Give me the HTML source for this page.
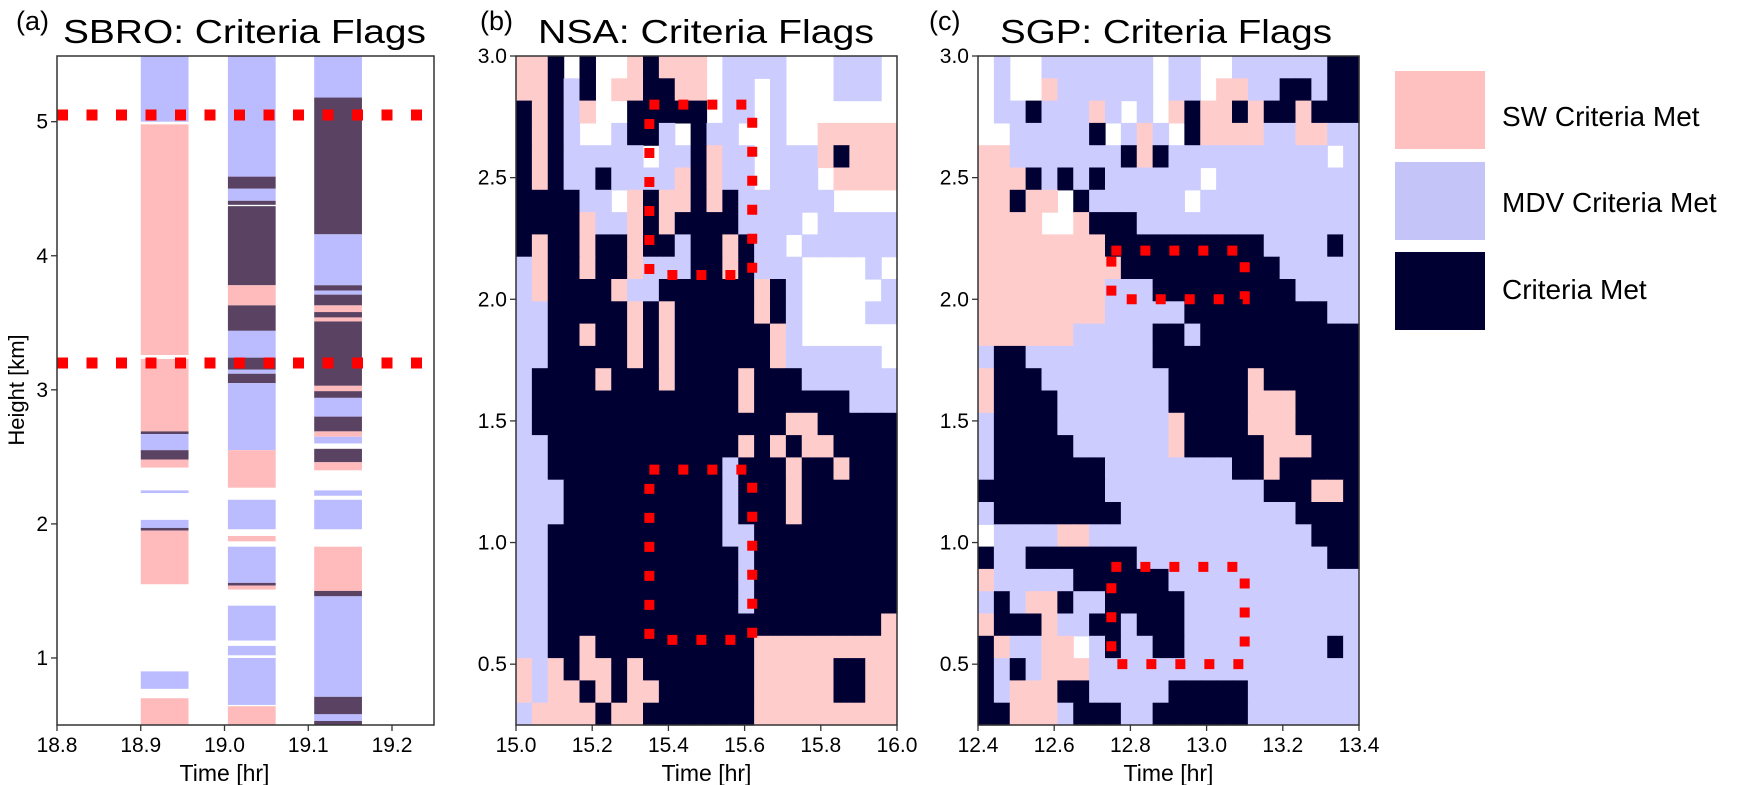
<!DOCTYPE html>
<html><head><meta charset="utf-8">
<style>
html,body{margin:0;padding:0;background:#fff;}
svg{display:block;font-family:"Liberation Sans",sans-serif;}
</style></head>
<body>
<svg id="fig" width="1758" height="785" viewBox="0 0 1758 785" xmlns="http://www.w3.org/2000/svg">
  <g id="marks"></g>
  <g id="axes"></g>
  <g id="legend">
    <rect x="1395" y="71" width="90" height="78" fill="#ffc0c0"/>
    <rect x="1395" y="162" width="90" height="78" fill="#c4c4f8"/>
    <rect x="1395" y="252" width="90" height="78" fill="#000033"/>
    <text x="1502" y="126" font-size="28">SW Criteria Met</text>
    <text x="1502" y="212" font-size="28">MDV Criteria Met</text>
    <text x="1502" y="299" font-size="28">Criteria Met</text>
  </g>
</svg>
<script>
// ---------- Panel (a) data ----------
const aBarTimes = [[18.9,18.957],[19.004,19.061],[19.107,19.164]];
const aBar1 = [[5.49,5.0,'l'],[4.98,3.26,'p'],[3.23,2.69,'p'],[2.69,2.67,'d'],[2.67,2.55,'l'],[2.55,2.48,'d'],[2.48,2.42,'p'],[2.25,2.23,'l'],[2.03,1.97,'l'],[1.97,1.95,'d'],[1.95,1.55,'p'],[0.90,0.77,'l'],[0.70,0.5,'p']];
const aBar2 = [[5.49,4.59,'l'],[4.59,4.50,'d'],[4.50,4.41,'l'],[4.41,4.38,'d'],[4.37,3.78,'d'],[3.78,3.63,'p'],[3.63,3.44,'d'],[3.44,3.24,'l'],[3.24,3.15,'d'],[3.15,3.12,'l'],[3.12,3.05,'d'],[3.05,2.55,'l'],[2.55,2.27,'p'],[2.18,1.96,'l'],[1.91,1.87,'p'],[1.83,1.56,'l'],[1.56,1.54,'d'],[1.54,1.51,'p'],[1.39,1.13,'l'],[1.09,1.02,'l'],[1.0,0.65,'l'],[0.64,0.5,'p']];
const aBar3 = [[5.49,5.18,'l'],[5.18,4.16,'d'],[4.16,3.78,'l'],[3.78,3.74,'d'],[3.74,3.71,'l'],[3.71,3.63,'d'],[3.63,3.58,'p'],[3.58,3.54,'d'],[3.54,3.51,'p'],[3.51,3.03,'d'],[3.03,2.99,'p'],[2.99,2.94,'d'],[2.94,2.80,'l'],[2.80,2.69,'d'],[2.69,2.65,'p'],[2.65,2.60,'l'],[2.56,2.46,'d'],[2.46,2.40,'p'],[2.25,2.21,'l'],[2.18,1.96,'l'],[1.83,1.50,'p'],[1.50,1.46,'d'],[1.46,0.71,'l'],[0.71,0.58,'d'],[0.58,0.53,'l'],[0.53,0.5,'d']];
const aLines = [5.05, 3.2];
const aXTicks = ['18.8','18.9','19.0','19.1','19.2'];
const aYTicks = ['1','2','3','4','5'];

// ---------- Panel (b) NSA grid (rows top->bottom, 3.0 -> 0.25 km) ----------
const nsaRows = [
"ppn.n..pnppp.llll...lll.",
"ppnln.ppnnpp.ll.l...lll.",
"npnlp..nnnnn.ll.l.......",
"npnl..lnnl.nll..l..ppppp",
"npnlllll.llnpll.lllpnppp",
"npnllnllllpnpll.lll.pppp",
"nnnnll.pnppnpnllllll....",
"nnnnpllpnpnnnnllll.lllll",
"npnnpnnpnnlnnpnll.llllll",
"lpnnpnnplllnnpnlll....l.",
"lpnnnnpllnnnnnnpnl.....l",
"llnnnnnpnpnnnnnpnl....ll",
"llnnpnnpnpnnnnnnpl......",
"llnnnnnpnpnnnnnnpllllll.",
"lnnnnpnnnpnnnnpnnnllllll",
"lnnnnnnnnnnnnnpnnnnnnlll",
"lnnnnnnnnnnnnnnnnppnnnnn",
"llnnnnnnnnnnnnpnpnppnnnn",
"llnnnnnnnnnnnlnnnpnnpnnn",
"lllnnnnnnnnnnlnnnpnnnnnn",
"lllnnnnnnnnnnlnnnpnnnnnn",
"llnnnnnnnnnnnllnnnnnnnnn",
"llnnnnnnnnnnnnlnnnnnnnnn",
"llnnnnnnnnnnnnlnnnnnnnnn",
"llnnnnnnnnnnnnlnnnnnnnnn",
"llnnnnnnnnnnnnnnnnnnnnnp",
"llnnpnnnnnnnnnnppppppppp",
"plpnppnpnnnnnnnpppppnnpp",
"plppnpnppnnnnnnpppppnnpp",
"lppppnppnnnnnnnppppppppp"];
const nsaTimeRange = [15.0, 16.0];
const nsaBoxes = [[15.35,15.62,2.1,2.8],[15.35,15.62,0.6,1.3]];
const nsaXTicks = ['15.0','15.2','15.4','15.6','15.8','16.0'];

// ---------- Panel (c) SGP grid ----------
const sgpRows = [
".l..lllllll.ll..llllllnn",
".l..pllllll.ll.ppllnnlnn",
".llnlllpl.l.pnppnpnnpnnn",
"..llllln.lpl.nppppllppll",
"pplllllllnpnllllllllll.l",
"pppnlnlnllllll.lllllllll",
"ppnpp.nllllll.llllllllll",
"pppp..pnnnllllllllllllll",
"ppppppppnnnnnnnnnnllllnl",
"pppppppppnnnnnnnnnnlllll",
"pppppppplllnnnnnnnnnllll",
"pppppppplllllnnnnnnnnnll",
"pppppplllllnnlnnnnnnnnnn",
"lnnllllllllnnnnnnnnnnnnn",
"pnnnllllllllnnnnnpnnnnnn",
"pnnnnlllllllnnnnnpppnnnn",
"lnnnnlllllllpnnnnpppnnnn",
"lnnnnnllllllpnnnnnpppnnn",
"lnnnnnnnllllllllnnpnnnnn",
"nnnnnnnnllllllllllnnnppn",
"lnnnnnnnnlllllllllllnnnn",
".llllppllllllllllllllnnn",
"nllnnnnnnnllllllllllllnn",
"plllllnnnnnnllllllllllll",
"lnlppnllnnnnnlllllllllll",
"pnnnpllnnlnnnlllllllllll",
"npllpp.lnllnnlllllllllnl",
"nlnlppplllllllllllllllll",
"nlpppnnlllllnnnnnlllllll",
"nnppplnnnllnnnnnnlllllll"];
const sgpTimeRange = [12.4, 13.4];
const sgpBoxes = [[12.75,13.10,2.0,2.2],[12.75,13.10,0.5,0.9]];
const sgpXTicks = ['12.4','12.6','12.8','13.0','13.2','13.4'];
const bcYTicks = ['0.5','1.0','1.5','2.0','2.5','3.0'];

// ---------- rendering ----------
const NS = 'http://www.w3.org/2000/svg';
const marks = document.getElementById('marks');
const axes = document.getElementById('axes');
function mk(tag, attrs, parent){
  const e = document.createElementNS(NS, tag);
  for (const k in attrs) e.setAttribute(k, attrs[k]);
  parent.appendChild(e);
  return e;
}
const TOP = 56, BOT = 725;
function linScale(d0,d1,r0,r1){ return v => r0 + (v-d0)/(d1-d0)*(r1-r0); }

// Panel a
const ax = linScale(18.8, 19.25, 57, 434);
const ay = linScale(0.5, 5.49, BOT, TOP);
const aCol = {l:'#bbbbff', p:'#ffbbbb', d:'#5a4263'};
[aBar1, aBar2, aBar3].forEach((segs, bi) => {
  const t = aBarTimes[bi];
  segs.forEach(s => {
    const r = mk('rect', {x: ax(t[0]), y: ay(s[0]), width: ax(t[1])-ax(t[0]), height: Math.max(1, ay(s[1])-ay(s[0])), fill: aCol[s[2]]}, marks);
    
    
  });
});
aLines.forEach(h => {
  const l = mk('line', {x1: 57, x2: 430, y1: ay(h), y2: ay(h), stroke: '#ff0000', 'stroke-width': 11, 'stroke-dasharray': '11 18.5'}, marks);
  
  
});

function drawGrid(rows, trange, x0, x1, name){
  const xs = linScale(trange[0], trange[1], x0, x1);
  const ys = linScale(0.25, 3.0, BOT, TOP);
  const nr = rows.length, nc = 24;
  const dt = (trange[1]-trange[0])/nc, dh = 2.75/nr;
  const col = {p:'#ffcccc', l:'#ccccff', n:'#000033'};
  rows.forEach((row, ri) => {
    for (let c = 0; c < Math.min(row.length, nc); c++){
      const ch = row[c];
      if (!col[ch]) continue;
      const tA = trange[0] + c*dt, hTop = 3.0 - ri*dh;
      const r = mk('rect', {x: xs(tA), y: ys(hTop), width: xs(tA+dt)-xs(tA)+0.6, height: ys(hTop-dh)-ys(hTop)+0.6, fill: col[ch]}, marks);
      
      
    }
  });
}
function drawBoxes(boxes, trange, x0, x1, name){
  const xs = linScale(trange[0], trange[1], x0, x1);
  const ys = linScale(0.25, 3.0, BOT, TOP);
  boxes.forEach(b => {
    const r = mk('rect', {x: xs(b[0]), y: ys(b[3]), width: xs(b[1])-xs(b[0]), height: ys(b[2])-ys(b[3]), fill: 'none', stroke: '#ff0000', 'stroke-width': 10, 'stroke-dasharray': '10 19'}, marks);
    
    
  });
}
drawGrid(nsaRows, nsaTimeRange, 516, 897, 'nsa');
drawBoxes(nsaBoxes, nsaTimeRange, 516, 897, 'nsa');
drawGrid(sgpRows, sgpTimeRange, 978, 1359, 'sgp');
drawBoxes(sgpBoxes, sgpTimeRange, 978, 1359, 'sgp');

// Axes
function frame(x0, x1, name){
  const f = mk('rect', {x: x0, y: TOP, width: x1-x0, height: BOT-TOP, fill: 'none', stroke: '#333', 'stroke-width': 1.5}, axes);
  
  
}
function xTicks(labels, x0, x1, name){
  const n = labels.length;
  labels.forEach((lab, i) => {
    const v = parseFloat(lab);
    const x = x0 + (v - parseFloat(labels[0])) / (parseFloat(labels[n-1]) - parseFloat(labels[0])) * (x1 - x0);
    mk('line', {x1: x, x2: x, y1: BOT, y2: BOT+6, stroke: '#333', 'stroke-width': 1.3}, axes);
    const t = mk('text', {x: x, y: 752, 'font-size': 21, 'text-anchor': 'middle'}, axes);
    t.textContent = lab;
    
    
  });
  const xt = mk('text', {x: (x0+x1)/2, y: 781, 'font-size': 23, 'text-anchor': 'middle'}, axes);
  xt.textContent = 'Time [hr]';
  
  
}
function yTicks(labels, yscale, x0, name){
  labels.forEach(lab => {
    const y = yscale(parseFloat(lab));
    mk('line', {x1: x0-6, x2: x0, y1: y, y2: y, stroke: '#333', 'stroke-width': 1.3}, axes);
    const t = mk('text', {x: x0-9, y: y+7, 'font-size': 21, 'text-anchor': 'end'}, axes);
    t.textContent = lab;
    
    
  });
}
function title(txt, x, w, name){
  const t = mk('text', {x: x, y: 43, 'font-size': 33, textLength: w, lengthAdjust: 'spacingAndGlyphs'}, axes);
  t.textContent = txt;
  
  
}
function letter(txt, x, name){
  const t = mk('text', {x: x, y: 30, 'font-size': 27}, axes);
  t.textContent = txt;
  
  
}
frame(57, 434, 'sbro');
xTicks(aXTicks, 57, 392, 'sbro');
yTicks(aYTicks, ay, 57, 'sbro');
title('SBRO: Criteria Flags', 63, 363, 'sbro');
letter('(a)', 16, 'sbro');
const yl = mk('text', {x: 0, y: 0, 'font-size': 22, 'text-anchor': 'middle', transform: 'translate(24,390) rotate(-90)'}, axes);
yl.textContent = 'Height [km]';



const bcY = linScale(0.25, 3.0, BOT, TOP);
frame(516, 897, 'nsa');
xTicks(nsaXTicks, 516, 897, 'nsa');
yTicks(bcYTicks, bcY, 516, 'nsa');
title('NSA: Criteria Flags', 538, 336, 'nsa');
letter('(b)', 480, 'nsa');

frame(978, 1359, 'sgp');
xTicks(sgpXTicks, 978, 1359, 'sgp');
yTicks(bcYTicks, bcY, 978, 'sgp');
title('SGP: Criteria Flags', 1000, 332, 'sgp');
letter('(c)', 929, 'sgp');
</script>
</body></html>
